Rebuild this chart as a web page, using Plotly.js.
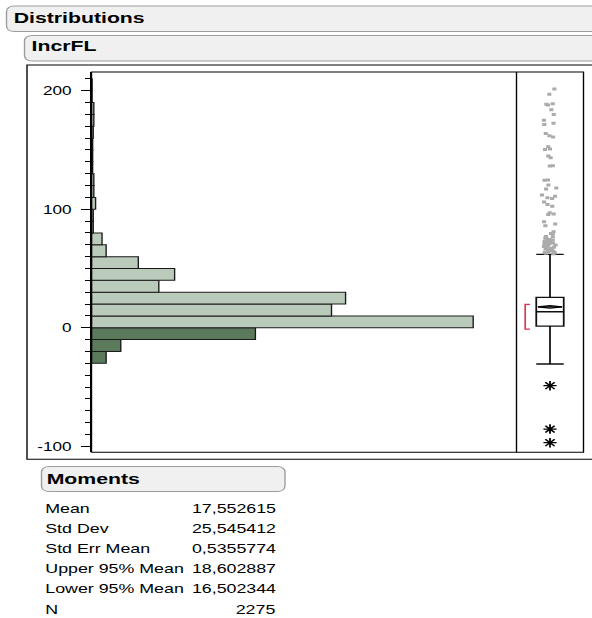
<!DOCTYPE html>
<html><head><meta charset="utf-8">
<script src="https://cdn.plot.ly/plotly-3.0.1.min.js"></script>
<style>
html,body{margin:0;padding:0;background:#fff;overflow:hidden;}
#wrap{width:592px;height:618px;overflow:hidden;position:relative;}
#chart{width:432px;height:618px;transform:scaleX(1.37037);transform-origin:0 0;}
</style></head><body><div id="wrap"><div id="chart"></div></div>
<script>
// ---------- data ----------
const binStart = [-30,-20,-10,0,10,20,30,40,50,60,70,80,90,100,110,120,130,140,150,160,170,180,190,200];
const binCount = [25,50,280,652,410,434,115,142,80,25,18,3,3,7,4,4,2,2,2,3,4,4,1,1];
const binWidth = 10;
const boxQ1 = [1.4];
const boxMedian = [13.5];
const boxQ3 = [25.6];
const whiskerLow = [-30.6];
const whiskerHigh = [61.9];
const shortestHalf = [-1.1, 19.7];
const upperOutliers = [201.4,197,189,188.5,188,184,180,175,172.5,171.6,164,162,161,152.7,150.8,150.5,145,143.5,
  136.7,136.5,124.6,124.4,120.4,118,117,112,111,109.7,109,106,102.5,104,97,96,95.5,89.5,87.5,86,81,79.5,79,77,76.8,
  75.5,75,74.5,74,73.8,73.2,72.8,72.5,72,71.6,71.2,70.8,70.5,70.2,69.8,69.2,68.5,68,67.6,67,66.5,66.2,65.8,65.2,
  64.6,64.2,63.6,63.2,62.8,62.5];
const lowerOutliers = [-48.9,-85.5,-97];
const momentLabels = ['Mean','Std Dev','Std Err Mean','Upper 95% Mean','Lower 95% Mean','N'];
const momentValues = [17.552615,25.545412,0.5355774,18.602887,16.502344,2275];
const yTickVals = [-100,0,100,200];

// ---------- helpers (reference pixel -> paper fraction) ----------
const W = 592, H = 618;
const fx = X => X / W;
const fy = Y => 1 - Y / H;
function rrect(X0, Y0, X1, Y1, rx, ry) {
  const a = fx(X0), b = fx(X1), c = fy(Y0), d = fy(Y1);
  const dx = rx / W, dy = ry / H;
  return `M${a+dx},${c} L${b-dx},${c} Q${b},${c} ${b},${c-dy} L${b},${d+dy} Q${b},${d} ${b-dx},${d} ` +
         `L${a+dx},${d} Q${a},${d} ${a},${d+dy} L${a},${c-dy} Q${a},${c} ${a+dx},${c} Z`;
}
const FONT = 'Liberation Sans, Arial, Helvetica, sans-serif';

const meanV = momentValues[0], up95 = momentValues[3], lo95 = momentValues[4];
const sparseOut = upperOutliers.filter(v => v >= 80);
const denseOut = upperOutliers.filter(v => v < 80);

function outlierBox(vals, jit) {
  return {
    type: 'box', xaxis: 'x2', yaxis: 'y', orientation: 'v',
    y: vals, x0: 0, boxpoints: 'all', jitter: jit, pointpos: 0, width: 0.82,
    fillcolor: 'rgba(0,0,0,0)', line: { color: 'rgba(0,0,0,0)', width: 0 },
    marker: { symbol: 'square', size: 3, color: '#ababab' }, hoverinfo: 'skip'
  };
}

const traces = [
  {
    type: 'bar', orientation: 'h', xaxis: 'x', yaxis: 'y',
    x: binCount, y: binStart, offset: 0, width: binWidth,
    marker: { color: binStart.map(s => s < 0 ? '#5b7a5c' : '#bacabb'), line: { color: '#1a1a1a', width: 1 } },
    hoverinfo: 'skip'
  },
  {
    type: 'box', xaxis: 'x2', yaxis: 'y', orientation: 'v',
    x: [0], q1: boxQ1, median: boxMedian, q3: boxQ3, lowerfence: whiskerLow, upperfence: whiskerHigh,
    width: 0.82, whiskerwidth: 1, fillcolor: '#ffffff', line: { color: '#111', width: 1.3 },
    boxpoints: false, hoverinfo: 'skip'
  },
  outlierBox(sparseOut, 0.6),
  outlierBox(denseOut, 0.5),
  {
    type: 'scatter', mode: 'markers', xaxis: 'x2', yaxis: 'y',
    x: lowerOutliers.map(() => 0), y: lowerOutliers,
    marker: { symbol: 'asterisk-open', size: 8, color: '#000', line: { color: '#000', width: 1.3 } },
    hoverinfo: 'skip'
  },
  {
    type: 'scatter', mode: 'lines', xaxis: 'x2', yaxis: 'y',
    x: [-0.36, 0, 0.36, 0, -0.36, null, -0.36, 0.36], y: [meanV, up95, meanV, lo95, meanV, null, meanV, meanV],
    line: { color: '#000', width: 1.3 }, hoverinfo: 'skip'
  },
  {
    type: 'scatter', mode: 'lines', xaxis: 'x2', yaxis: 'y',
    x: [-0.6, -0.74, -0.74, -0.6], y: [shortestHalf[0], shortestHalf[0], shortestHalf[1], shortestHalf[1]],
    line: { color: '#e0304e', width: 1.2 }, hoverinfo: 'skip'
  }
];

const shapes = [
  { type: 'path', xref: 'paper', yref: 'paper', path: rrect(6.5, 6, 640, 31.5, 8, 6), fillcolor: '#f0f0f0', line: { color: '#9c9c9c', width: 1 }, layer: 'below' },
  { type: 'path', xref: 'paper', yref: 'paper', path: rrect(24.5, 35.5, 640, 61, 8, 6), fillcolor: '#f0f0f0', line: { color: '#9c9c9c', width: 1 }, layer: 'below' },
  { type: 'rect', xref: 'paper', yref: 'paper', x0: fx(27), x1: fx(640), y0: fy(65), y1: fy(459.3), line: { color: '#000', width: 1 }, layer: 'below' },
  { type: 'rect', xref: 'paper', yref: 'paper', x0: fx(91.5), x1: fx(583.5), y0: fy(72), y1: fy(452.3), line: { color: '#000', width: 1 }, layer: 'above' },
  { type: 'line', xref: 'paper', yref: 'paper', x0: fx(516.5), x1: fx(516.5), y0: fy(72), y1: fy(452.3), line: { color: '#000', width: 1 }, layer: 'above' },
  { type: 'path', xref: 'paper', yref: 'paper', path: rrect(41.5, 466.5, 285, 491.5, 8, 6), fillcolor: '#f0f0f0', line: { color: '#9c9c9c', width: 1 }, layer: 'below' }
];

const annotations = [
  { text: 'Distributions', x: fx(13), y: fy(17.7), font: { family: FONT, size: 15.5, color: '#000', weight: 'bold' } },
  { text: 'IncrFL', x: fx(30), y: fy(45.8), font: { family: FONT, size: 15.5, color: '#000', weight: 'bold' } },
  { text: 'Moments', x: fx(45), y: fy(478.3), font: { family: FONT, size: 15.5, color: '#000', weight: 'bold' } }
];
momentLabels.forEach((lab, i) => {
  annotations.push({ text: lab, x: fx(43.5), y: fy(508 + 20.2 * i), font: { family: FONT, size: 13, color: '#000' } });
  annotations.push({ text: String(momentValues[i]).replace('.', ','), x: fx(277), y: fy(508 + 20.2 * i), xanchor: 'right',
    font: { family: FONT, size: 13, color: '#000' } });
});
annotations.forEach(a => {
  a.xref = 'paper'; a.yref = 'paper'; a.showarrow = false; a.yanchor = 'middle';
  if (!a.xanchor) a.xanchor = 'left'; a.borderpad = 0;
});

const layout = {
  width: 432, height: 618, margin: { l: 0, r: 0, t: 0, b: 0 },
  paper_bgcolor: '#fff', plot_bgcolor: 'rgba(0,0,0,0)',
  showlegend: false, boxmode: 'overlay', bargap: 0,
  font: { family: FONT, color: '#000' },
  xaxis: { domain: [fx(91.5), fx(516.5)], range: [0, 726], visible: false, anchor: 'y', fixedrange: true },
  xaxis2: { domain: [fx(516.5), fx(583.5)], range: [-1, 1], visible: false, anchor: 'y', fixedrange: true },
  yaxis: {
    domain: [fy(452.3), fy(72)], range: [-105.1, 215.8], anchor: 'x',
    tickmode: 'array', tickvals: yTickVals, ticktext: yTickVals.map(String),
    ticks: 'outside', ticklen: 7, tickwidth: 1, tickcolor: '#000', ticklabelstandoff: 4,
    showline: true, linecolor: '#000', linewidth: 1, showgrid: false, zeroline: false,
    minor: { dtick: 10, tick0: 0, ticks: 'outside', ticklen: 4, tickwidth: 1, tickcolor: '#000', showgrid: false },
    tickfont: { family: FONT, size: 12.5, color: '#000' }, fixedrange: true
  },
  shapes: shapes, annotations: annotations
};

Plotly.newPlot('chart', traces, layout, { displayModeBar: false, staticPlot: true });
</script></body></html>
